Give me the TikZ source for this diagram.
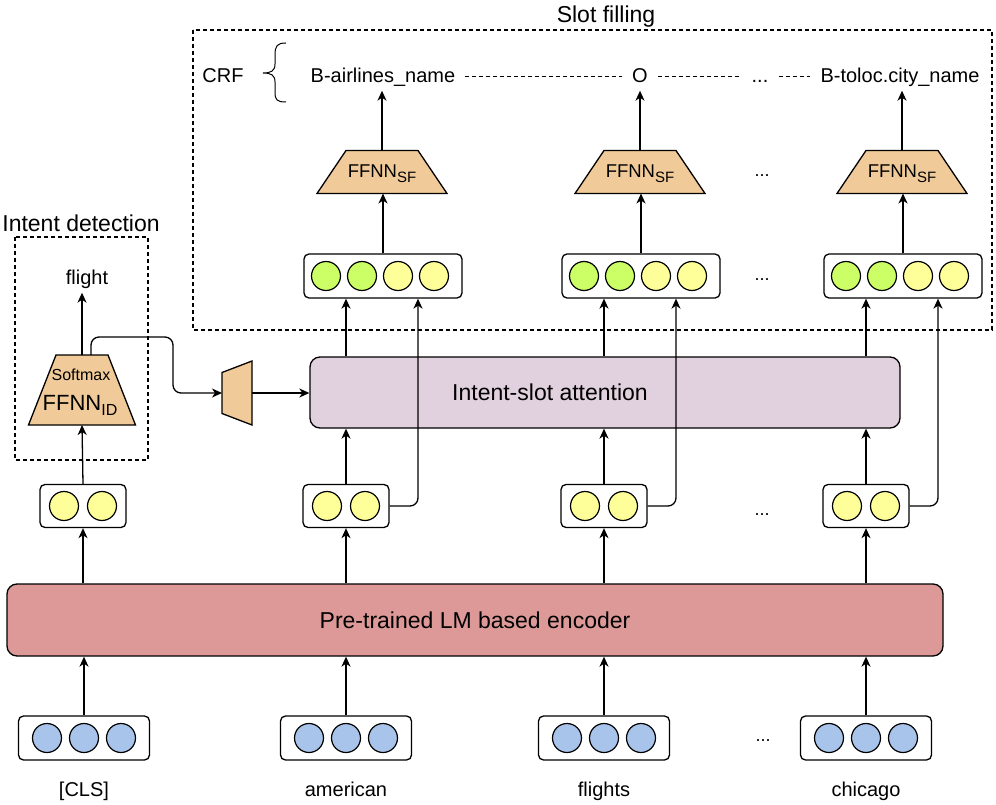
\documentclass[tikz,border=0pt]{standalone}
\usepackage{fontspec}
\setmainfont{Liberation Sans}
\usetikzlibrary{positioning,calc,arrows.meta}
\definecolor{unitblue}{RGB}{169,196,235}
\definecolor{unityellow}{RGB}{255,255,153}
\definecolor{unitgreen}{RGB}{204,255,102}
\definecolor{ffnnorange}{RGB}{240,202,152}
\definecolor{encred}{RGB}{220,153,152}
\definecolor{attpurple}{RGB}{225,208,222}
\newcommand{\fsz}[1]{\fontsize{#1}{#1}\selectfont}
\newcommand{\lowidx}[2]{\raisebox{-5pt}{\fsz{#1}#2}}
% trapezoid under a named box: #1 node, #2 inset of the narrow top
\newcommand{\ffnnup}[2]{\draw[ffnnfill] (#1.south west) -- (#1.south east) -- ($(#1.north east)+(-#2,0)$) -- ($(#1.north west)+(#2,0)$) -- cycle;}
\tikzset{vecbox/.style={draw, rounded corners=5, line width=1.3pt, fill=white}}
\tikzset{unit/.style={circle, draw, line width=1.2pt, minimum size=29pt, inner sep=0pt}}
\tikzset{ffnnbox/.style={inner sep=0pt, outer sep=0pt}}
\tikzset{ffnnfill/.style={draw, line width=1.3pt, fill=ffnnorange}}
\tikzset{bigbox/.style={draw, rounded corners=10, line width=1.3pt}}
\tikzset{dbox/.style={draw, dash pattern=on 4pt off 3pt, line width=1.1pt}}
\tikzset{arr/.style={draw, -{Stealth[length=10pt, width=9pt, inset=3pt]}, line width=1.3pt}}
\tikzset{crfline/.style={draw, dash pattern=on 4pt off 3pt, line width=1pt, shorten <=6pt, shorten >=6pt}}
\tikzset{tag/.style={font=\fsz{20}, text height=15pt, text depth=4pt, inner sep=4pt}}
\tikzset{dots/.style={font=\fsz{18}, inner sep=0pt}}

\begin{document}
\begin{tikzpicture}[x=1pt, y=-1pt]
	\useasboundingbox (0,0) rectangle (996,805);
	% frames
	\draw[dbox] (193,30) rectangle (992,330);
	\draw[dbox] (15,237) rectangle (148,460);
	\node[font=\fsz{23}] (sftitle) at (606,17) {Slot filling};
	\node[font=\fsz{23}] (idtitle) at (81,223) {Intent detection};
	% encoder and inputs
	\node[bigbox, fill=encred, minimum width=936pt, minimum height=72pt, font=\fsz{23}] (enc) at (475,620) {Pre-trained LM based encoder};
	\foreach \n/\x/\w in {in1/84/{[CLS]}, in2/346/american, in3/604/flights, in4/866/chicago}{
		\node[vecbox, minimum width=131pt, minimum height=44pt] (\n) at (\x,738) {};
		\foreach \k [count=\j] in {-1,0,1} \node[unit, fill=unitblue] (\n c\j) at ($(\n)+(\k*37,0)$) {};
		\node[tag] (\n w) at (\x,791) {\w};
		\draw[arr] (\n.north) -- (\n.north |- enc.south);
	}
	\node[dots] (dd5) at (763,741) {...};
	% hidden vectors
	\foreach \n/\x in {h1/83, h2/346, h3/604, h4/866}{
		\node[vecbox, minimum width=86pt, minimum height=43pt] (\n) at (\x,506) {};
		\foreach \k [count=\j] in {-1,1} \node[unit, fill=unityellow] (\n c\j) at ($(\n)+(\k*19,0)$) {};
		\draw[arr] (\n.south |- enc.north) -- (\n.south);
	}
	\node[dots] (dd4) at (762,515) {...};
	% intent detection
	\node[ffnnbox, minimum width=107pt, minimum height=70pt] (id) at (82,390) {};
	\ffnnup{id}{27.5}
	\node[font=\fsz{16}] (idsm) at (81,375) {Softmax};
	\node[font=\fsz{22}] (idname) at (80,405) {FFNN\lowidx{16}{ID}};
	\node[tag] (flight) at (87,279) {flight};
	\draw[arr] (h1.north) -- (id.south);
	\draw[arr] (id.north) -- (id.north |- flight.south);
	% intent-slot attention
	\node[ffnnbox, minimum width=30pt, minimum height=64pt] (mix) at (237,393) {};
	\draw[ffnnfill] (mix.north east) -- (mix.south east) -- ($(mix.south west)+(0,-11.5)$) -- ($(mix.north west)+(0,11.5)$) -- cycle;
	\node[bigbox, fill=attpurple, minimum width=590pt, minimum height=71pt] (att) at (605,392.5) {};
	\node[font=\fsz{23}] (attlbl) at (550,392) {Intent-slot attention};
	\draw[arr, rounded corners=8] ($(id.north)+(9,0)$) -- ++(0,-18) -| ($(mix.west)+(-49,0)$) -- (mix.west);
	\draw[arr] (mix.east) -- (mix.east -| att.west);
	% slot filling
	\node[tag] (crf) at (223,77) {CRF};
	\draw[line width=1pt] (286,43) .. controls (277,43) and (275,46) .. (275,55) -- (275,64) .. controls (275,71) and (271,73) .. (263,73) .. controls (271,73) and (275,75) .. (275,82) -- (275,92) .. controls (275,100) and (277,102) .. (286,102);
	\node[tag] (y2) at (383,77) {B-airlines\_name};
	\node[tag] (y3) at (640,77) {O};
	\node[tag] (ydots) at (760,77) {...};
	\node[tag] (y4) at (900,77) {B-toloc.city\_name};
	\draw[crfline] (y2) -- (y3);
	\draw[crfline] (y3) -- (ydots);
	\draw[crfline] (ydots) -- (y4);
	\foreach \c/\x in {2/383, 3/641, 4/903}{
		\node[vecbox, minimum width=158pt, minimum height=44pt] (g\c) at (\x,276) {};
		\foreach \k/\col [count=\j] in {-57/unitgreen, -21/unitgreen, 15/unityellow, 51/unityellow}
			\node[unit, fill=\col] (g\c c\j) at ($(g\c)+(\k,0)$) {};
		\node[ffnnbox, minimum width=130pt, minimum height=43pt] (f\c) at (\x-1,172) {};
		\ffnnup{f\c}{29}
		\node[font=\fsz{18.5}] (f\c l) at (\x-1,174) {FFNN\lowidx{15}{SF}};
		\draw[arr] (g\c.north) -- (g\c.north |- f\c.south);
		\draw[arr] (f\c.north) -- (f\c.north |- y\c.south);
		\draw[arr] (h\c.north) -- (h\c.north |- att.south);
		\draw[arr] (h\c.north |- att.north) -- (h\c.north |- g\c.south);
		\draw[arr, rounded corners=8] (h\c.east) -| ($(g\c.south)+(35,0)$);
	}
	\node[dots] (dd2) at (762,176) {...};
	\node[dots] (dd3) at (762,280) {...};
\end{tikzpicture}
\end{document}
